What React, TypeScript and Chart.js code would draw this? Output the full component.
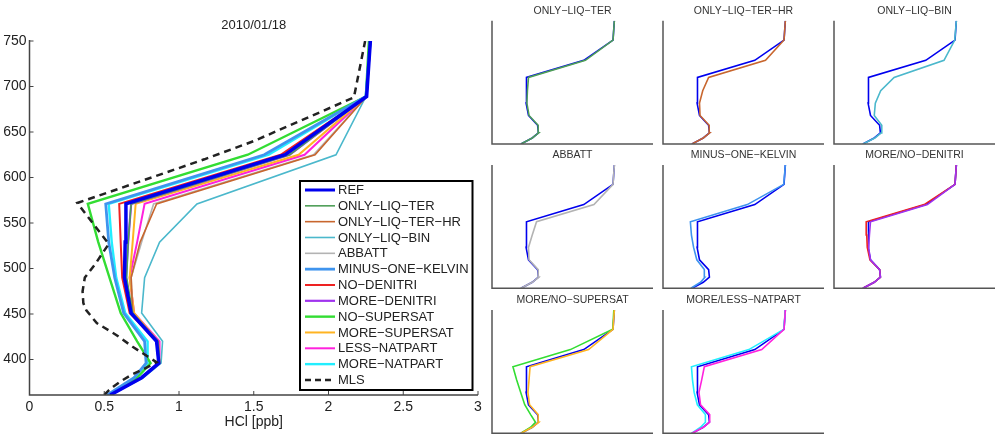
import React, { useEffect, useRef } from 'react';
import { Chart, registerables } from 'chart.js';

Chart.register(...registerables);

const FONT = '"Liberation Sans", Arial, Helvetica, sans-serif';

// Model levels (y axis) shared by all model runs
const LEVELS = [361, 380, 396, 420, 451, 490, 529, 571, 625, 689, 750];

// HCl [ppb] per model run, at LEVELS
const REF = [0.54, 0.75, 0.865, 0.85, 0.68, 0.635, 0.64, 0.645, 1.71, 2.255, 2.28];
const ONLY_LIQ_TER = [0.54, 0.75, 0.87, 0.86, 0.69, 0.65, 0.66, 0.68, 1.74, 2.255, 2.28];
const ONLY_LIQ_TER_HR = [0.54, 0.75, 0.87, 0.86, 0.69, 0.68, 0.74, 0.85, 1.91, 2.255, 2.28];
const ONLY_LIQ_BIN = [0.54, 0.76, 0.88, 0.89, 0.75, 0.77, 0.87, 1.12, 2.05, 2.25, 2.28];
const ABBATT = [0.54, 0.75, 0.87, 0.86, 0.69, 0.68, 0.75, 0.83, 1.9, 2.255, 2.28];
const MINUS_ONE_KELVIN = [0.52, 0.7, 0.78, 0.77, 0.63, 0.57, 0.53, 0.51, 1.57, 2.25, 2.28];
const NO_DENITRI = [0.54, 0.75, 0.865, 0.85, 0.67, 0.62, 0.61, 0.6, 1.68, 2.255, 2.28];
const MORE_DENITRI = [0.54, 0.75, 0.865, 0.85, 0.68, 0.645, 0.66, 0.68, 1.74, 2.255, 2.28];
const NO_SUPERSAT = [0.54, 0.72, 0.81, 0.72, 0.61, 0.535, 0.46, 0.39, 1.46, 2.25, 2.27];
const MORE_SUPERSAT = [0.54, 0.75, 0.87, 0.86, 0.7, 0.67, 0.69, 0.71, 1.8, 2.255, 2.28];
const LESS_NATPART = [0.54, 0.75, 0.87, 0.87, 0.7, 0.67, 0.72, 0.77, 1.84, 2.255, 2.28];
const MORE_NATPART = [0.53, 0.7, 0.79, 0.79, 0.64, 0.58, 0.55, 0.53, 1.6, 2.25, 2.28];

// MLS observation profile (own levels)
const MLS_LEVELS = [361, 366, 370, 376, 383, 390, 397, 414, 427, 440, 454, 462, 475, 490, 505, 527, 572, 620, 640, 688, 750];
const MLS = [0.5, 0.53, 0.56, 0.61, 0.68, 0.77, 0.85, 0.69, 0.58, 0.45, 0.38, 0.36, 0.355, 0.37, 0.44, 0.53, 0.32, 1.17, 1.5, 2.17, 2.245];

const SERIES_LABELS = [
  'REF', 'ONLY\u2212LIQ\u2212TER', 'ONLY\u2212LIQ\u2212TER\u2212HR', 'ONLY\u2212LIQ\u2212BIN', 'ABBATT',
  'MINUS\u2212ONE\u2212KELVIN', 'NO\u2212DENITRI', 'MORE\u2212DENITRI', 'NO\u2212SUPERSAT',
  'MORE\u2212SUPERSAT', 'LESS\u2212NATPART', 'MORE\u2212NATPART',
];
const SERIES_VALUES = [
  REF, ONLY_LIQ_TER, ONLY_LIQ_TER_HR, ONLY_LIQ_BIN, ABBATT, MINUS_ONE_KELVIN,
  NO_DENITRI, MORE_DENITRI, NO_SUPERSAT, MORE_SUPERSAT, LESS_NATPART, MORE_NATPART,
];
const SERIES_COLORS = [
  '#0000ee', '#4e9e57', '#c8662e', '#4bb8cc', '#b3b3b3', '#3f94ee',
  '#ee2222', '#a033ee', '#33dd33', '#ffb422', '#ff22dd', '#22eeff',
];
const SERIES_WIDTHS = [3.5, 1.6, 1.6, 1.6, 1.6, 2.8, 2, 2.2, 2.4, 2, 2, 2.4];
const MLS_LABEL = 'MLS';

const X_TICKS = [0, 0.5, 1, 1.5, 2, 2.5, 3];
const Y_TICKS = [400, 450, 500, 550, 600, 650, 700, 750];
const TITLE = '2010/01/18';
const X_LABEL = 'HCl [ppb]';

const PANEL_TITLES = [
  'ONLY\u2212LIQ\u2212TER', 'ONLY\u2212LIQ\u2212TER\u2212HR', 'ONLY\u2212LIQ\u2212BIN',
  'ABBATT', 'MINUS\u2212ONE\u2212KELVIN', 'MORE/NO\u2212DENITRI',
  'MORE/NO\u2212SUPERSAT', 'MORE/LESS\u2212NATPART',
];
const PANEL_MEMBERS = [[0, 1], [0, 2], [0, 3], [0, 4], [0, 5], [0, 6, 7], [0, 8, 9], [0, 11, 10]];

const X_MIN = 0, X_MAX = 3, Y_MIN = 361, Y_MAX = 750;

const mainDecor = {
  id: 'mainDecor',
  afterDraw(chart: any) {
    const { ctx, chartArea: a, scales } = chart;
    const x = scales.x, y = scales.y;
    ctx.save();
    // axes
    ctx.strokeStyle = '#444';
    ctx.lineWidth = 1.5;
    ctx.beginPath();
    ctx.moveTo(a.left, a.top - 1);
    ctx.lineTo(a.left, a.bottom);
    ctx.lineTo(a.right, a.bottom);
    ctx.stroke();
    ctx.lineWidth = 1;
    ctx.beginPath();
    X_TICKS.forEach((v) => {
      const px = x.getPixelForValue(v);
      ctx.moveTo(px, a.bottom);
      ctx.lineTo(px, a.bottom - 4);
    });
    Y_TICKS.forEach((v) => {
      const py = y.getPixelForValue(v);
      ctx.moveTo(a.left, py);
      ctx.lineTo(a.left + 4, py);
    });
    ctx.stroke();
    // title
    ctx.fillStyle = '#222';
    ctx.font = '13px ' + FONT;
    ctx.textAlign = 'center';
    ctx.textBaseline = 'middle';
    ctx.fillText(TITLE, (a.left + a.right) / 2, 25);
    // legend
    const bx = 300, by = 181, bw = 172.5, bh = 209;
    ctx.fillStyle = '#fff';
    ctx.fillRect(bx, by, bw, bh);
    ctx.strokeStyle = '#000';
    ctx.lineWidth = 2;
    ctx.strokeRect(bx, by, bw, bh);
    const labels = [...SERIES_LABELS, MLS_LABEL];
    ctx.font = '13px ' + FONT;
    ctx.textAlign = 'left';
    labels.forEach((lab, i) => {
      const ry = 190 + i * 15.83;
      ctx.beginPath();
      if (i < SERIES_LABELS.length) {
        ctx.strokeStyle = SERIES_COLORS[i];
        ctx.lineWidth = Math.min(SERIES_WIDTHS[i], 3);
        ctx.setLineDash([]);
      } else {
        ctx.strokeStyle = '#222';
        ctx.lineWidth = 2.5;
        ctx.setLineDash([6, 4]);
      }
      ctx.moveTo(305, ry);
      ctx.lineTo(335, ry);
      ctx.stroke();
      ctx.setLineDash([]);
      ctx.fillStyle = '#222';
      ctx.fillText(lab, 338, ry + 0.5);
    });
    ctx.restore();
  },
};

const panelDecor = {
  id: 'panelDecor',
  afterDraw(chart: any) {
    const { ctx, chartArea: a } = chart;
    const title = chart.options.plugins.panelDecor.title;
    ctx.save();
    ctx.strokeStyle = '#555';
    ctx.lineWidth = 1.5;
    ctx.beginPath();
    ctx.moveTo(a.left, a.top);
    ctx.lineTo(a.left, a.bottom);
    ctx.lineTo(a.right, a.bottom);
    ctx.stroke();
    ctx.fillStyle = '#333';
    ctx.font = '10.5px ' + FONT;
    ctx.textAlign = 'center';
    ctx.textBaseline = 'middle';
    ctx.fillText(title, (a.left + a.right) / 2, a.top - 10);
    ctx.restore();
  },
};

function toPoints(levels: number[], vals: number[]) {
  return levels.map((lv, k) => ({ x: vals[k], y: lv }));
}

function MainChart() {
  const ref = useRef<HTMLCanvasElement>(null);
  useEffect(() => {
    const datasets: any[] = SERIES_VALUES.map((vals, i) => ({
      label: SERIES_LABELS[i],
      data: toPoints(LEVELS, vals),
      borderColor: SERIES_COLORS[i],
      backgroundColor: SERIES_COLORS[i],
      borderWidth: SERIES_WIDTHS[i],
      showLine: true,
      pointRadius: 0,
      order: i === 0 ? 1 : 2,
    }));
    datasets.push({
      label: MLS_LABEL,
      data: toPoints(MLS_LEVELS, MLS),
      borderColor: '#222',
      backgroundColor: '#222',
      borderWidth: 2.5,
      borderDash: [7, 5],
      showLine: true,
      pointRadius: 0,
      order: 0,
    });
    const tickFont = { family: FONT, size: 14 };
    const chart = new Chart(ref.current as HTMLCanvasElement, {
      type: 'scatter',
      data: { datasets },
      options: {
        responsive: false,
        animation: false,
        devicePixelRatio: 1,
        layout: { padding: { left: 0, top: 41, right: 12, bottom: 0 } },
        plugins: { legend: { display: false }, tooltip: { enabled: false }, title: { display: false } },
        scales: {
          x: {
            type: 'linear', min: X_MIN, max: X_MAX,
            grid: { display: false, drawTicks: false },
            border: { display: false },
            afterBuildTicks: (s: any) => { s.ticks = X_TICKS.map((v) => ({ value: v })); },
            afterFit: (s: any) => { s.height = 39; },
            ticks: { color: '#222', font: tickFont, padding: 4, maxRotation: 0, autoSkip: false, callback: (v: any) => String(v) },
            title: { display: true, text: X_LABEL, color: '#222', font: { family: FONT, size: 14 }, padding: { top: 0, bottom: 3 } },
          },
          y: {
            type: 'linear', min: Y_MIN, max: Y_MAX,
            grid: { display: false, drawTicks: false },
            border: { display: false },
            afterBuildTicks: (s: any) => { s.ticks = Y_TICKS.map((v) => ({ value: v })); },
            afterFit: (s: any) => { s.width = 29.5; },
            ticks: { color: '#222', font: tickFont, padding: 3, autoSkip: false, callback: (v: any) => String(v) },
          },
        },
      } as any,
      plugins: [mainDecor],
    });
    return () => chart.destroy();
  }, []);
  return (
    <canvas
      ref={ref}
      width={490}
      height={434}
      style={{ position: 'absolute', left: 0, top: 0, width: 490, height: 434 }}
    />
  );
}

const COL_LEFT = [492, 663, 834];
const ROW_TOP = [20.7, 165, 310];
const PANEL_W = 161;
const PANEL_H = 123.3;

function Panel({ idx }: { idx: number }) {
  const ref = useRef<HTMLCanvasElement>(null);
  const col = idx % 3;
  const row = Math.floor(idx / 3);
  const left = COL_LEFT[col] - 2;
  const top = Math.round(ROW_TOP[row] - 20);
  const padTop = ROW_TOP[row] - top;
  const w = PANEL_W + 4;
  const h = Math.ceil(padTop + PANEL_H + 2);
  useEffect(() => {
    const datasets: any[] = PANEL_MEMBERS[idx].map((si, k) => ({
      label: SERIES_LABELS[si],
      data: toPoints(LEVELS, SERIES_VALUES[si]),
      borderColor: SERIES_COLORS[si],
      backgroundColor: SERIES_COLORS[si],
      borderWidth: 1.6,
      showLine: true,
      pointRadius: 0,
      order: k === 0 ? 5 : 5 - k,
    }));
    const chart = new Chart(ref.current as HTMLCanvasElement, {
      type: 'scatter',
      data: { datasets },
      options: {
        responsive: false,
        animation: false,
        devicePixelRatio: 1,
        layout: { padding: { left: 2, right: 2, top: padTop, bottom: h - padTop - PANEL_H } },
        plugins: {
          legend: { display: false },
          tooltip: { enabled: false },
          panelDecor: { title: PANEL_TITLES[idx] },
        },
        scales: {
          x: { type: 'linear', min: X_MIN, max: X_MAX, display: false },
          y: { type: 'linear', min: Y_MIN, max: Y_MAX, display: false },
        },
      } as any,
      plugins: [panelDecor],
    });
    return () => chart.destroy();
  }, [idx]);
  return (
    <canvas
      ref={ref}
      width={w}
      height={h}
      style={{ position: 'absolute', left, top, width: w, height: h }}
    />
  );
}

export default function App() {
  return (
    <div
      style={{
        position: 'fixed', left: 0, top: 0, width: 995, height: 434,
        background: '#fff', overflow: 'hidden',
      }}
    >
      <MainChart />
      {PANEL_TITLES.map((_, i) => (
        <Panel key={i} idx={i} />
      ))}
    </div>
  );
}
